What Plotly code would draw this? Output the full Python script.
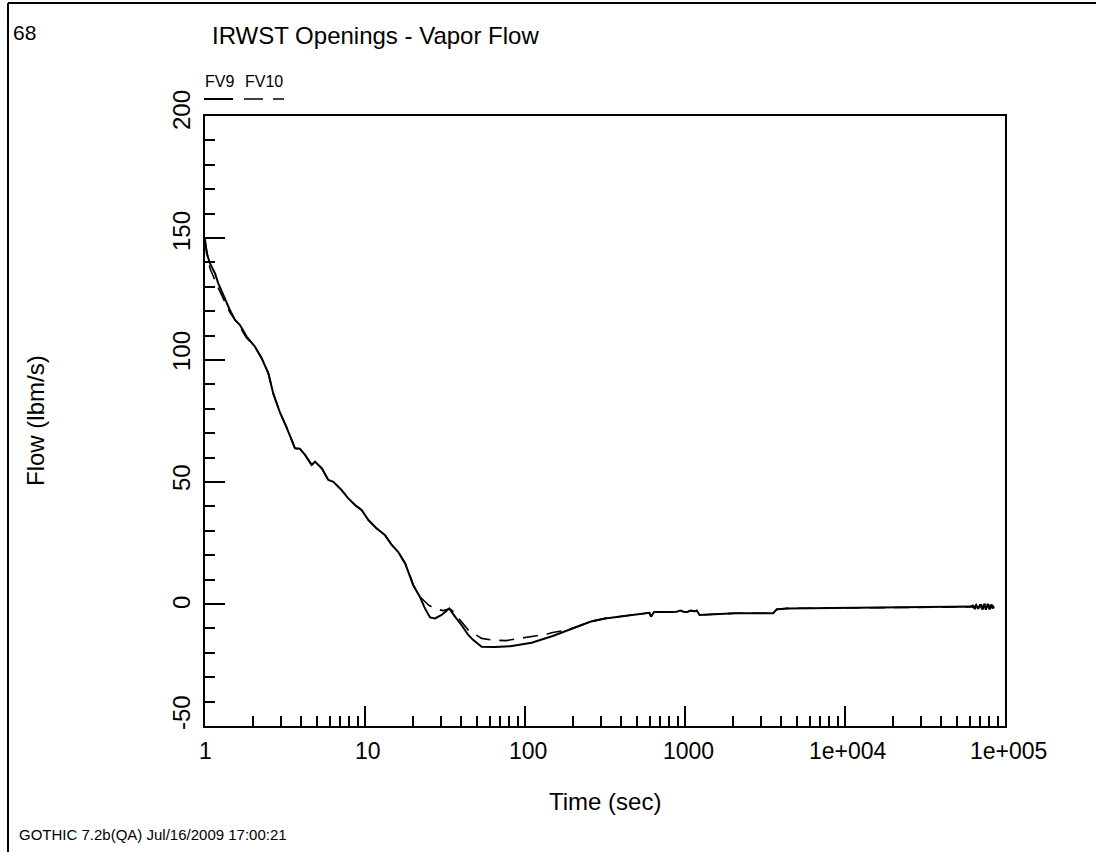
import math
import plotly.graph_objects as go

# ---- data: IRWST opening vapor flow (lbm/s) versus time (sec) ----
fv9_time = [1.0, 1.025, 1.075, 1.155, 1.21, 1.30, 1.43, 1.54, 1.655, 1.82,
            2.05, 2.26, 2.49, 2.67, 2.94, 3.24, 3.65, 3.92, 4.22, 4.64,
            4.87, 5.37, 5.9, 6.34, 7.14, 7.86, 8.66, 9.52, 10.5, 11.8,
            13.3, 14.7, 16.1, 17.8, 19.1, 20.0, 22.0, 23.7, 25.5, 27.4,
            30.1, 33.6, 36.5, 40.1, 44.2, 47.5, 53.6, 65.0, 81.0, 100.0,
            110.0, 149.0, 211.0, 258.0, 317.0, 408.0, 574.0, 599.0, 614.0, 640.0,
            760.0, 887.0, 934.0, 981.0, 1030.0, 1084.0, 1150.0, 1185.0, 1233.0, 2058.0,
            3555.0, 3740.0, 4351.0, 10920.0, 29700.0, 60000.0, 62000.0, 64000.0, 66000.0, 68000.0,
            70000.0, 72000.0, 74000.0, 76000.0, 78000.0, 80000.0, 82000.0, 84000.0, 85500.0]
fv9_flow = [149.5, 143.7, 139.6, 135.5, 131.4, 126.6, 120.5, 116.4, 114.3, 109.6,
            105.5, 100.7, 94.5, 86.3, 78.5, 72.3, 63.8, 63.6, 61.1, 57.0,
            58.3, 55.6, 50.8, 50.1, 46.7, 43.3, 40.6, 38.5, 34.4, 31.0,
            28.3, 24.2, 21.4, 16.7, 11.8, 7.8, 3.0, -1.8, -5.5, -5.9,
            -4.5, -1.8, -5.2, -8.6, -12.7, -14.8, -17.5, -17.6, -17.3, -16.2,
            -15.9, -13.1, -9.3, -7.2, -5.9, -4.9, -3.8, -3.6, -5.2, -3.3,
            -3.3, -3.2, -2.7, -3.2, -3.3, -2.7, -3.0, -2.7, -4.5, -3.8,
            -3.8, -2.2, -1.8, -1.5, -1.4, -1.2, -1.0, -1.6, -0.4, -2.0,
            -0.2, -2.2, 0.0, -2.3, 0.1, -2.2, -0.2, -1.8, -1.1]

fv10_time = [1.0, 1.075, 1.21, 1.43, 1.655, 1.82,
             2.05, 2.26, 2.49, 2.67, 2.94, 3.24, 3.65, 3.92, 4.22, 4.64,
             4.87, 5.37, 5.9, 6.34, 7.14, 7.86, 8.66, 9.52, 10.5, 11.8,
             13.3, 14.7, 16.1, 17.8, 19.1, 20.0, 22.0, 24.9, 27.4, 30.8,
             33.6, 34.9, 40.1, 44.2, 53.6, 63.4, 76.2, 93.0, 118.0, 138.0,
             149.0, 183.0, 211.0, 258.0, 317.0, 408.0, 574.0, 599.0, 614.0, 640.0,
             760.0, 887.0, 934.0, 981.0, 1030.0, 1084.0, 1150.0, 1185.0, 1233.0, 2058.0,
             3555.0, 3740.0, 4351.0, 10920.0, 29700.0, 60000.0, 63000.0, 65000.0, 67000.0, 69000.0,
             71000.0, 73000.0, 75000.0, 77000.0, 79000.0, 81000.0, 83000.0, 85500.0]
fv10_flow = [148.5, 137.5, 129.5, 119.5, 113.5, 109.0,
             105.5, 100.7, 94.5, 86.3, 78.5, 72.3, 63.8, 63.6, 61.1, 57.0,
             58.3, 55.6, 50.8, 50.1, 46.7, 43.3, 40.6, 38.5, 34.4, 31.0,
             28.3, 24.2, 21.4, 16.7, 11.8, 7.8, 3.0, -0.4, -2.0, -2.7,
             -2.0, -2.5, -7.3, -10.7, -14.1, -14.8, -15.0, -14.1, -13.1, -12.3,
             -11.7, -10.7, -9.3, -7.2, -5.9, -4.9, -3.8, -3.6, -5.2, -3.3,
             -3.3, -3.2, -2.7, -3.2, -3.3, -2.7, -3.0, -2.7, -4.5, -3.8,
             -3.8, -2.2, -1.8, -1.5, -1.4, -1.2, -0.5, -1.9, -0.3, -2.1,
             -0.1, -2.2, 0.1, -2.1, -0.2, -2.0, -0.6, -1.1]

series_names = ["FV9", "FV10"]
x_tick_values = [1, 10, 100, 1000, 10000, 100000]
x_tick_labels = ["1", "10", "100", "1000", "1e+004", "1e+005"]
y_tick_values = [-50, 0, 50, 100, 150, 200]
y_tick_labels = ["-50", "0", "50", "100", "150", "200"]

title_text = "IRWST Openings - Vapor Flow"
page_number = "68"
footer_text = "GOTHIC 7.2b(QA) Jul/16/2009 17:00:21"

# ---- page geometry (pixels) ----
W, H = 1096, 852
L, R, T, B = 205, 1005, 116, 726
FONT = "Liberation Sans, Arial"


def px(xp):
    return (xp - L) / (R - L)


def py(yp):
    return (B - yp) / (B - T)


x_minor = [m * 10 ** d for d in range(5) for m in range(2, 10)]
y_minor = [v for v in range(-50, 201, 10) if v not in (0, 50, 100, 150, 200)]

fig = go.Figure()
fig.add_trace(go.Scatter(x=fv9_time, y=fv9_flow, mode="lines", name=series_names[0],
                         line=dict(color="black", width=2)))
fig.add_trace(go.Scatter(x=fv10_time, y=fv10_flow, mode="lines", name=series_names[1],
                         line=dict(color="black", width=1.6, dash="15px,9px")))

axis_common = dict(showline=True, linecolor="black", linewidth=2, mirror=True,
                   showgrid=False, zeroline=False, ticks="inside", ticklen=20,
                   tickwidth=2, tickcolor="black")

fig.update_xaxes(type="log", range=[0, 5], tickmode="array", tickvals=x_tick_values,
                 ticktext=x_tick_labels, showticklabels=False,
                 minor=dict(tickmode="array", tickvals=x_minor, ticks="inside",
                            ticklen=10, tickwidth=2, tickcolor="black", showgrid=False),
                 **axis_common)
fig.update_yaxes(range=[-50, 200], tickmode="array", tickvals=[0, 50, 100, 150, 200],
                 showticklabels=False,
                 minor=dict(tickmode="array", tickvals=y_minor, ticks="inside",
                            ticklen=10, tickwidth=2, tickcolor="black", showgrid=False),
                 **axis_common)

annotations = []
# x tick labels (annotation x on a log axis is given in log10 units)
for v, lab in zip(x_tick_values, x_tick_labels):
    annotations.append(dict(x=math.log10(v), xref="x", y=py(751), yref="paper", text=lab,
                            showarrow=False, xanchor="center", yanchor="middle",
                            xshift=0 if v == 1 else 3,
                            font=dict(family=FONT, size=23, color="black")))
# y tick labels (rotated), nudged upward slightly as in the plotting package
label_lift = {200: 6, 150: 7, 100: 9, 50: 4, 0: 1, -50: 13}
for v, lab in zip(y_tick_values, y_tick_labels):
    annotations.append(dict(x=px(181), xref="paper", y=v, yref="y", text=lab,
                            showarrow=False, textangle=-90, xanchor="center",
                            yanchor="middle", yshift=label_lift[v],
                            font=dict(family=FONT, size=24, color="black")))

annotations += [
    dict(x=px(210), y=py(35), text=title_text, xanchor="left",
         font=dict(family=FONT, size=24)),
    dict(x=px(11), y=py(33), text=page_number, xanchor="left",
         font=dict(family=FONT, size=21)),
    dict(x=px(605), y=py(801), text="Time (sec)", xanchor="center",
         font=dict(family=FONT, size=24)),
    dict(x=px(35), y=py(421), text="Flow (lbm/s)", textangle=-90, xanchor="center",
         font=dict(family=FONT, size=24)),
    dict(x=px(17), y=py(834), text=footer_text, xanchor="left",
         font=dict(family=FONT, size=15)),
    dict(x=px(203), y=py(81), text=series_names[0], xanchor="left",
         font=dict(family=FONT, size=16)),
    dict(x=px(243), y=py(81), text=series_names[1], xanchor="left",
         font=dict(family=FONT, size=16)),
]
for a in annotations:
    a.setdefault("xref", "paper")
    a.setdefault("yref", "paper")
    a.setdefault("showarrow", False)
    a.setdefault("yanchor", "middle")
    a["font"].setdefault("color", "black")

shapes = [
    # page frame: top and left edges
    dict(type="line", xref="paper", yref="paper", x0=px(8), x1=px(1096),
         y0=py(3), y1=py(3), line=dict(color="black", width=2)),
    dict(type="line", xref="paper", yref="paper", x0=px(8), x1=px(8),
         y0=py(3), y1=py(852), line=dict(color="black", width=2)),
    # legend line samples
    dict(type="line", xref="paper", yref="paper", x0=px(204), x1=px(233),
         y0=py(99), y1=py(99), line=dict(color="black", width=2)),
    dict(type="line", xref="paper", yref="paper", x0=px(244), x1=px(284),
         y0=py(99), y1=py(99), line=dict(color="black", width=1.6, dash="19px,10px")),
]

fig.update_layout(width=W, height=H, margin=dict(l=L, r=W - R, t=T, b=H - B),
                  paper_bgcolor="white", plot_bgcolor="white", showlegend=False,
                  annotations=annotations, shapes=shapes,
                  font=dict(family=FONT, color="black"))

fig.write_html("out.html")
